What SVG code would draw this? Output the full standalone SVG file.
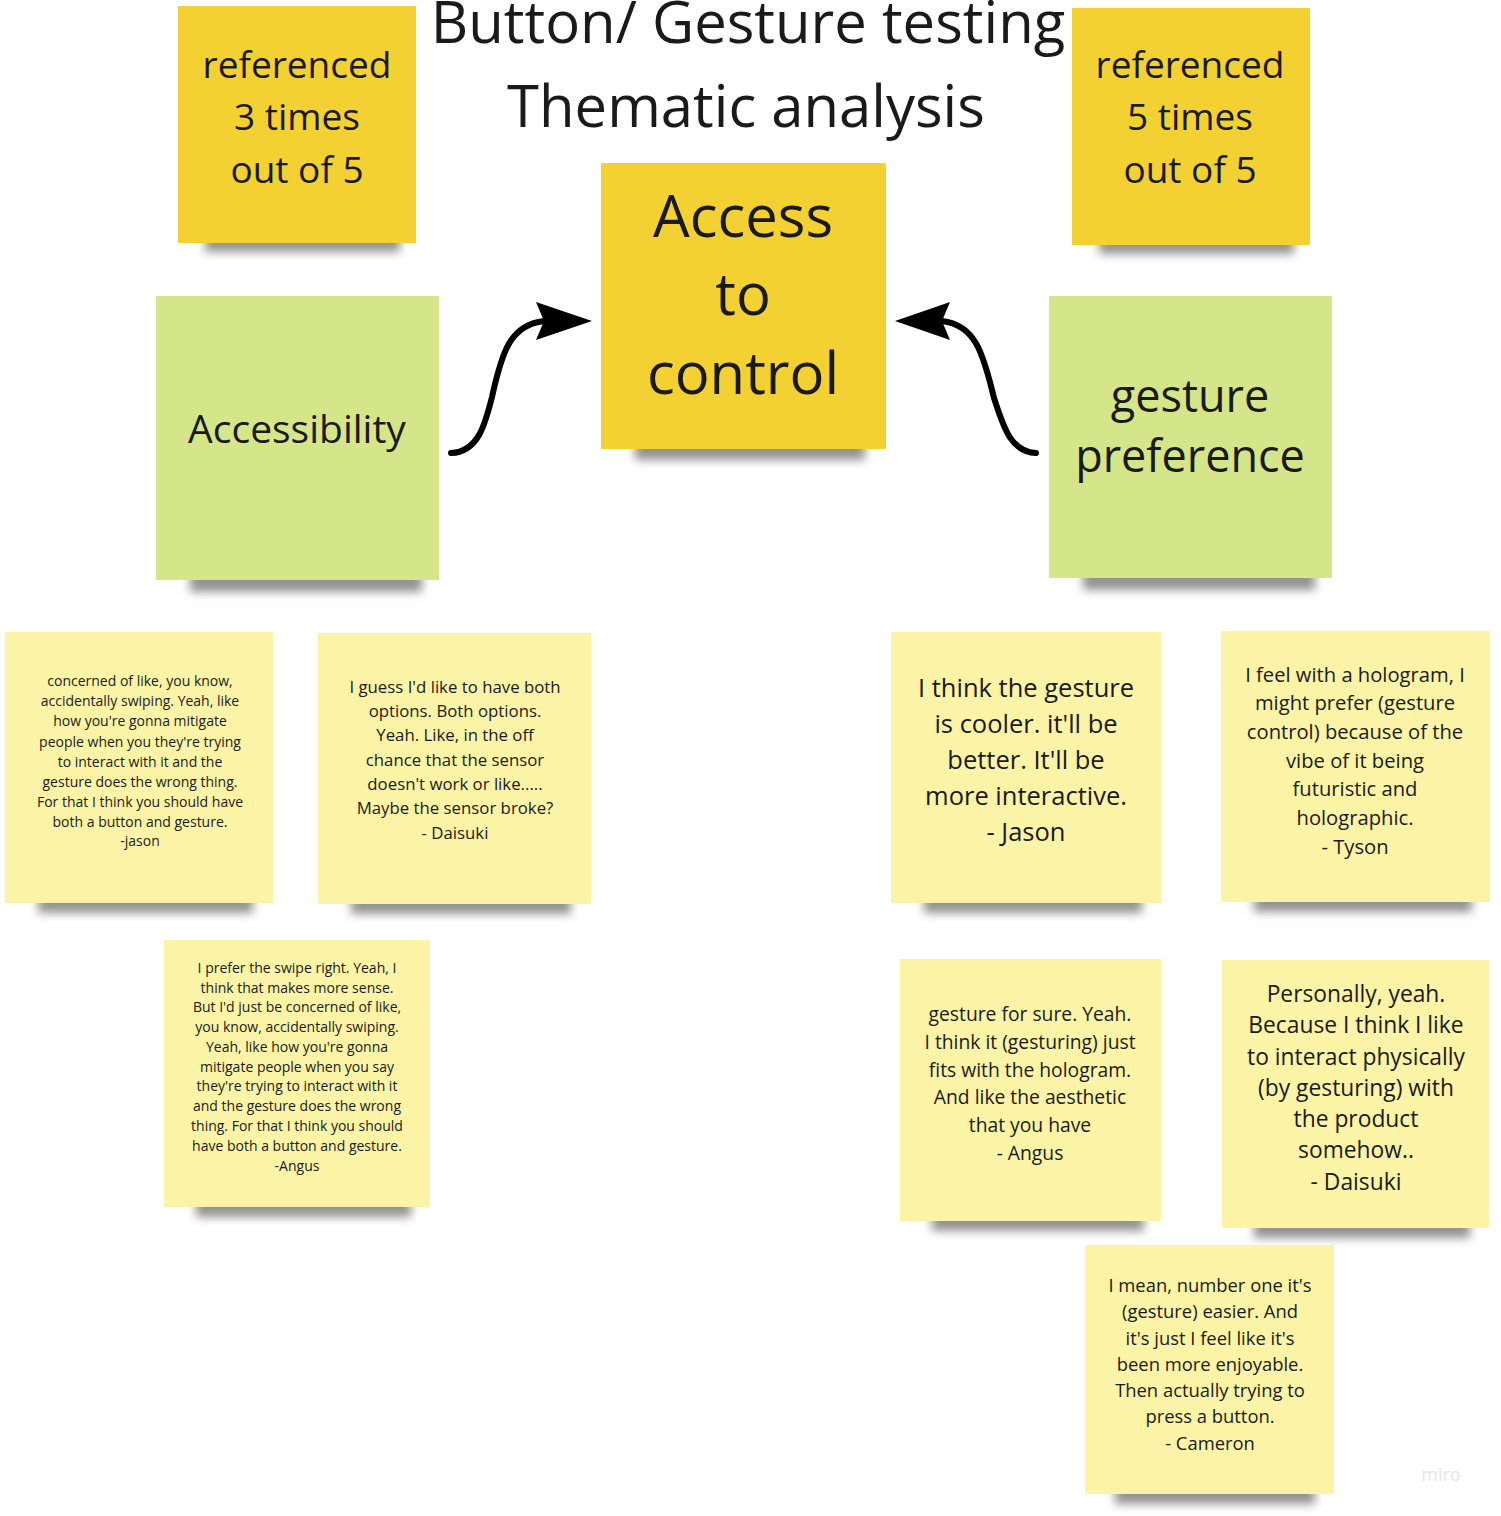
<svg xmlns="http://www.w3.org/2000/svg" width="1501" height="1516" viewBox="0 0 1501 1516">
<defs>
<filter id="blur" x="-20%" y="-100%" width="140%" height="300%"><feGaussianBlur stdDeviation="5"/></filter>
<style>
text{font-family:"Open Sans","Noto Sans","DejaVu Sans",sans-serif;text-anchor:middle;fill:#1a1a1a}
.shadow{fill:#3a3a3a;opacity:.55;filter:url(#blur)}
.dark{fill:#F3D133}
.green{fill:#D5E58A}
.light{fill:#FBF4A7}
.small{fill:#4a4a3a}
.conn{fill:none;stroke:#000;stroke-width:6;stroke-linecap:round}
</style>
</defs>
<rect width="1501" height="1516" fill="#fff"/>

<g id="title">
<text x="748" y="43" font-size="58">Button/ Gesture testing</text>
<text x="746" y="127" font-size="58">Thematic analysis</text>
</g>

<g id="ref3">
<rect class="shadow" x="205" y="232" width="195" height="20"/>
<rect class="dark" x="178" y="6" width="238" height="237"/>
<text x="297" y="78" font-size="37">referenced</text>
<text x="297" y="130" font-size="37">3 times</text>
<text x="297" y="183" font-size="37">out of 5</text>
</g>

<g id="ref5">
<rect class="shadow" x="1099" y="234" width="195" height="20"/>
<rect class="dark" x="1072" y="8" width="238" height="237"/>
<text x="1190" y="78" font-size="37">referenced</text>
<text x="1190" y="130" font-size="37">5 times</text>
<text x="1190" y="183" font-size="37">out of 5</text>
</g>

<g id="access">
<rect class="shadow" x="635" y="438" width="230" height="22"/>
<rect class="dark" x="601" y="163" width="285" height="286"/>
<text x="743" y="237" font-size="58">Access</text>
<text x="743" y="315" font-size="58">to</text>
<text x="743" y="394" font-size="58">control</text>
</g>

<g id="accessibility">
<rect class="shadow" x="190" y="570" width="232" height="22"/>
<rect class="green" x="156" y="296" width="283" height="284"/>
<text x="297" y="443" font-size="39">Accessibility</text>
</g>

<g id="gesturepref">
<rect class="shadow" x="1083" y="568" width="232" height="22"/>
<rect class="green" x="1049" y="296" width="283" height="282"/>
<text x="1190" y="412" font-size="45">gesture</text>
<text x="1190" y="472" font-size="45">preference</text>
</g>

<g id="connectors">
<path class="conn" d="M451,453 C478,452 485,425 492,397 C502,352 510,325 544,321"/>
<polygon points="536,302 592,321 536,340 544,321" fill="#000"/>
<path class="conn" d="M1036,453 C1010,452 1003,425 994,398 C983,352 975,325 942,321"/>
<polygon points="950,302 895,321 950,340 942,321" fill="#000"/>
</g>

<g id="note-jason-left">
<rect class="shadow" x="38" y="893" width="215" height="20"/>
<rect class="light" x="5" y="632" width="268" height="271"/>
<g class="small" font-size="14">
<text x="140" y="686">concerned of like, you know,</text>
<text x="140" y="706">accidentally swiping. Yeah, like</text>
<text x="140" y="726">how you're gonna mitigate</text>
<text x="140" y="747">people when you they're trying</text>
<text x="140" y="767">to  interact with it and the</text>
<text x="140" y="787">gesture does the wrong thing.</text>
<text x="140" y="807">For that I think you should have</text>
<text x="140" y="827">both a button and gesture.</text>
<text x="140" y="846">-jason</text>
</g>
</g>

<g id="note-daisuki-left">
<rect class="shadow" x="351" y="894" width="220" height="20"/>
<rect class="light" x="318" y="633" width="273" height="271"/>
<g class="small" font-size="16.8">
<text x="455" y="693">I guess I'd like to have both</text>
<text x="455" y="717">options. Both options.</text>
<text x="455" y="741">Yeah. Like, in the off</text>
<text x="455" y="766">chance that the sensor</text>
<text x="455" y="790">doesn't work or like.....</text>
<text x="455" y="814">Maybe the sensor broke?</text>
<text x="455" y="839">- Daisuki</text>
</g>
</g>

<g id="note-angus-left">
<rect class="shadow" x="196" y="1197" width="215" height="20"/>
<rect class="light" x="164" y="940" width="266" height="267"/>
<g class="small" font-size="14">
<text x="297" y="973">I prefer the swipe right. Yeah, I</text>
<text x="297" y="993">think that makes more sense.</text>
<text x="297" y="1012">But I'd just be concerned of like,</text>
<text x="297" y="1032">you know,  accidentally swiping.</text>
<text x="297" y="1052">Yeah, like how you're gonna</text>
<text x="297" y="1072">mitigate people when you say</text>
<text x="297" y="1091">they're trying to interact with it</text>
<text x="297" y="1111">and the gesture does the wrong</text>
<text x="297" y="1131">thing. For that I think you should</text>
<text x="297" y="1151">have both a button and gesture.</text>
<text x="297" y="1171">-Angus</text>
</g>
</g>

<g id="note-jason-right">
<rect class="shadow" x="924" y="893" width="218" height="20"/>
<rect class="light" x="891" y="632" width="270" height="271"/>
<g class="small" font-size="25.5">
<text x="1026" y="697">I think the gesture</text>
<text x="1026" y="733">is cooler. it'll be</text>
<text x="1026" y="769">better. It'll be</text>
<text x="1026" y="805">more interactive.</text>
<text x="1026" y="841">- Jason</text>
</g>
</g>

<g id="note-tyson">
<rect class="shadow" x="1254" y="892" width="218" height="20"/>
<rect class="light" x="1221" y="631" width="269" height="271"/>
<g class="small" font-size="20.2">
<text x="1355" y="682">I feel with a hologram, I</text>
<text x="1355" y="710">might prefer (gesture</text>
<text x="1355" y="739">control) because of the</text>
<text x="1355" y="768">vibe of it being</text>
<text x="1355" y="796">futuristic and</text>
<text x="1355" y="825">holographic.</text>
<text x="1355" y="854">- Tyson</text>
</g>
</g>

<g id="note-angus-right">
<rect class="shadow" x="932" y="1211" width="212" height="20"/>
<rect class="light" x="900" y="959" width="261" height="262"/>
<g class="small" font-size="19.3">
<text x="1030" y="1021">gesture for sure. Yeah.</text>
<text x="1030" y="1049">I think it (gesturing) just</text>
<text x="1030" y="1077">fits with the hologram.</text>
<text x="1030" y="1104">And like the aesthetic</text>
<text x="1030" y="1132">that you have</text>
<text x="1030" y="1160">- Angus</text>
</g>
</g>

<g id="note-daisuki-right">
<rect class="shadow" x="1254" y="1218" width="216" height="20"/>
<rect class="light" x="1222" y="960" width="267" height="268"/>
<g class="small" font-size="22.8">
<text x="1356" y="1002">Personally, yeah.</text>
<text x="1356" y="1033">Because I think I like</text>
<text x="1356" y="1065">to interact physically</text>
<text x="1356" y="1096">(by gesturing) with</text>
<text x="1356" y="1127">the product</text>
<text x="1356" y="1158">somehow..</text>
<text x="1356" y="1190">- Daisuki</text>
</g>
</g>

<g id="note-cameron">
<rect class="shadow" x="1115" y="1484" width="200" height="20"/>
<rect class="light" x="1085" y="1245" width="249" height="249"/>
<g class="small" font-size="18.4">
<text x="1210" y="1292">I mean, number one it's</text>
<text x="1210" y="1318">(gesture) easier. And</text>
<text x="1210" y="1345">it's just I feel like it's</text>
<text x="1210" y="1371">been more enjoyable.</text>
<text x="1210" y="1397">Then actually trying to</text>
<text x="1210" y="1423">press a button.</text>
<text x="1210" y="1450">- Cameron</text>
</g>
</g>

<text x="1441" y="1481" font-size="18" style="fill:#e6e6ea">miro</text>
</svg>
